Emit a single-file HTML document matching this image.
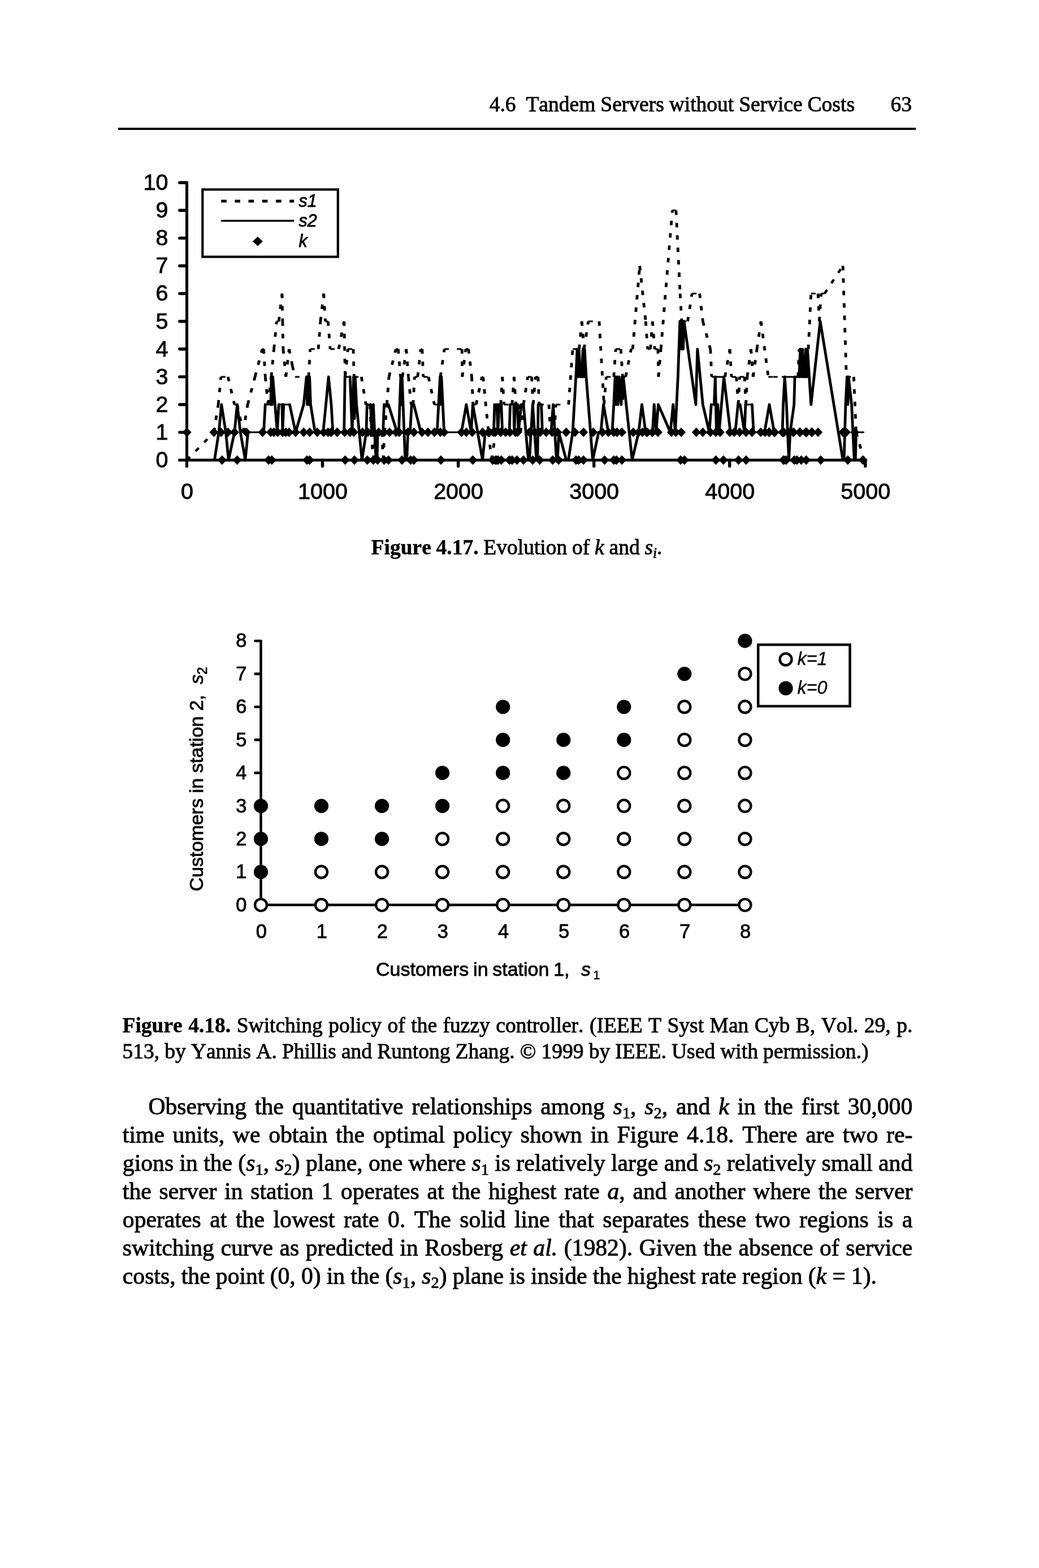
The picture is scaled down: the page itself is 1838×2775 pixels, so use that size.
<!DOCTYPE html>
<html lang="en">
<head>
<meta charset="utf-8">
<title>4.6 Tandem Servers without Service Costs</title>
<style>
html,body{margin:0;padding:0;background:#fff;}
body{width:1838px;height:2775px;position:relative;overflow:hidden;font-family:'Liberation Serif', serif;color:#000;}
.t{position:absolute;white-space:nowrap;margin:0;padding:0;-webkit-text-stroke:0.85px #000;font-kerning:none;}
.t.c{width:0;}
.t.c>span{display:inline-block;transform:translateX(-50%);}
.t.r{width:0;}
.t.r>span{display:inline-block;transform:translateX(-100%);}
b{-webkit-text-stroke:0.4px #000;}
.sub{font-size:68%;position:relative;top:0.22em;line-height:0;}
.sub2{font-size:70%;position:relative;top:0.3em;line-height:0;}
.rule{position:absolute;left:209px;top:226px;width:1411px;height:4px;background:#000;}
svg{position:absolute;left:0;top:0;}
.yl{position:absolute;left:347.2px;top:1379.0px;width:0;height:0;}
.yl>span{position:absolute;white-space:nowrap;-webkit-text-stroke:0.85px #000;font-kerning:none;font-family:'Liberation Sans', sans-serif;font-size:34px;line-height:40px;transform:translate(-50%,-50%) rotate(-90deg);transform-origin:50% 50%;display:inline-block;}
</style>
</head>
<body>
<div class="rule"></div>
<svg width="1838" height="2775" viewBox="0 0 1838 2775">
<path d="M330.5 321.5V827.5M315.3 814.2H1533.5" stroke="#000" stroke-width="5" fill="none"/>
<path d="M317.8 765.1H330.5M317.8 716.0H330.5M317.8 666.9H330.5M317.8 617.8H330.5M317.8 568.7H330.5M317.8 519.6H330.5M317.8 470.5H330.5M317.8 421.4H330.5M317.8 372.3H330.5M317.8 323.2H330.5M570.5 814.2V825M810.6 814.2V825M1050.7 814.2V825M1290.7 814.2V825M1530.8 814.2V825" stroke="#000" stroke-width="5.4" stroke-linecap="round" fill="none"/>
<path d="M390.9 666.9L403.3 666.9M414.8 716.0L419.6 716.0M464.0 617.8L466.5 617.8M489.4 568.7L493.2 568.7M521.9 666.9L545.9 666.9M548.7 617.8L563.1 617.8M575.5 568.7L580.3 568.7M584.1 617.8L599.1 617.8M615.4 617.8L625.0 617.8M626.3 666.9L639.3 666.9M647.3 716.0L654.6 716.0M665.1 765.1L675.7 765.1M700.5 617.8L704.4 617.8M708.6 666.9L712.0 666.9M727.3 716.0L730.8 716.0M733.4 666.9L738.8 666.9M744.5 617.8L746.8 617.8M748.8 666.9L757.9 666.9M768.5 716.0L777.1 716.0M786.2 617.8L808.6 617.8M808.6 617.8L817.2 617.8M823.9 617.8L828.7 617.8M836.8 716.0L842.1 716.0M852.6 666.9L854.6 666.9M891.6 716.0L905.9 716.0M912.6 716.0L917.4 716.0M933.7 666.9L940.4 666.9M947.1 666.9L951.8 666.9M953.8 716.0L971.0 716.0M973.8 765.1L980.5 765.1M983.4 716.0L1005.8 716.0M1013.1 617.8L1024.5 617.8M1040.8 568.7L1059.9 568.7M1072.4 666.9L1085.8 666.9M1089.2 617.8L1098.2 617.8M1101.5 666.9L1106.8 666.9M1116.4 617.8L1119.2 617.8M1145.7 617.8L1150.5 617.8M1158.2 617.8L1163.9 617.8M1189.4 372.3L1195.9 372.3M1206.0 568.7L1216.5 568.7M1224.2 519.6L1237.6 519.6M1259.0 666.9L1264.4 666.9M1264.4 666.9L1270.1 666.9M1270.1 666.9L1276.8 666.9M1276.8 666.9L1282.5 666.9M1294.0 666.9L1302.6 666.9M1308.4 666.9L1317.0 666.9M1359.1 666.9L1367.7 666.9M1367.7 666.9L1383.0 666.9M1383.0 666.9L1389.7 666.9M1389.7 666.9L1395.4 666.9M1395.4 666.9L1401.2 666.9M1401.2 666.9L1406.9 666.9M1406.9 666.9L1411.7 666.9M1413.7 617.8L1429.9 617.8M1434.7 519.6L1447.1 519.6M1452.5 519.6L1458.6 519.6M1497.3 666.9L1510.3 666.9M1528.5 814.2L1533.0 814.2" fill="none" stroke="#000" stroke-width="3.00" stroke-dasharray="8 14"/>
<path d="M330.6 814.2L378.4 765.1M1458.6 519.6L1491.1 470.5" fill="none" stroke="#000" stroke-width="4.35" stroke-dasharray="8 14"/>
<path d="M378.4 765.1L386.1 716.0M386.1 716.0L390.9 666.9M403.3 666.9L414.8 716.0M419.6 716.0L430.1 765.1M430.1 765.1L438.1 716.0M438.1 716.0L451.1 666.9M451.1 666.9L464.0 617.8M466.5 617.8L469.3 666.9M469.3 666.9L474.1 716.0M474.1 716.0L479.8 666.9M479.8 666.9L484.6 617.8M484.6 617.8L489.4 568.7M493.2 568.7L499.0 519.6M499.0 519.6L499.9 568.7M499.9 568.7L500.9 617.8M500.9 617.8L505.7 666.9M505.7 666.9L511.4 617.8M511.4 617.8L517.2 647.3M517.2 647.3L521.9 666.9M545.9 666.9L548.7 617.8M563.1 617.8L566.9 568.7M566.9 568.7L572.6 519.6M572.6 519.6L575.5 568.7M580.3 568.7L584.1 617.8M599.1 617.8L608.7 568.7M608.7 568.7L610.6 666.9M610.6 666.9L615.4 617.8M625.0 617.8L626.3 666.9M639.3 666.9L647.3 716.0M654.6 716.0L656.5 765.1M656.5 765.1L660.4 814.2M660.4 814.2L665.1 765.1M675.7 765.1L677.6 814.2M677.6 814.2L680.4 765.1M680.4 765.1L684.3 716.0M684.3 716.0L688.1 666.9M688.1 666.9L700.5 617.8M704.4 617.8L708.6 666.9M712.0 666.9L718.7 617.8M718.7 617.8L722.5 666.9M722.5 666.9L727.3 716.0M730.8 716.0L733.4 666.9M738.8 666.9L744.5 617.8M746.8 617.8L748.8 666.9M757.9 666.9L768.5 716.0M777.1 716.0L779.0 666.9M779.0 666.9L786.2 617.8M817.2 617.8L817.8 666.9M817.8 666.9L823.9 617.8M828.7 617.8L834.5 666.9M834.5 666.9L836.8 716.0M842.1 716.0L852.6 666.9M854.6 666.9L864.1 765.1M864.1 765.1L869.6 814.2M869.6 814.2L876.8 765.1M876.8 765.1L885.8 716.0M885.8 716.0L888.7 666.9M888.7 666.9L891.6 716.0M905.9 716.0L909.4 666.9M909.4 666.9L912.6 716.0M917.4 716.0L920.8 765.1M920.8 765.1L926.0 716.0M926.0 716.0L933.7 666.9M940.4 666.9L943.2 716.0M943.2 716.0L947.1 666.9M951.8 666.9L953.8 716.0M971.0 716.0L973.8 765.1M980.5 765.1L983.4 716.0M1005.8 716.0L1013.1 617.8M1024.5 617.8L1029.3 568.7M1029.3 568.7L1033.2 617.8M1033.2 617.8L1040.8 568.7M1059.9 568.7L1068.5 716.0M1068.5 716.0L1072.4 666.9M1085.8 666.9L1089.2 617.8M1098.2 617.8L1101.5 666.9M1106.8 666.9L1116.4 617.8M1119.2 617.8L1131.7 470.5M1131.7 470.5L1142.2 568.7M1142.2 568.7L1145.7 617.8M1150.5 617.8L1154.3 568.7M1154.3 568.7L1158.2 617.8M1163.9 617.8L1164.9 666.9M1164.9 666.9L1169.1 617.8M1169.1 617.8L1189.4 372.3M1195.9 372.3L1203.1 519.6M1203.1 519.6L1206.0 568.7M1216.5 568.7L1224.2 519.6M1237.6 519.6L1243.3 568.7M1243.3 568.7L1256.7 617.8M1256.7 617.8L1259.0 666.9M1282.5 666.9L1291.1 617.8M1291.1 617.8L1294.0 666.9M1302.6 666.9L1306.1 716.0M1306.1 716.0L1308.4 666.9M1317.0 666.9L1319.5 716.0M1319.5 716.0L1321.8 666.9M1321.8 666.9L1328.5 617.8M1328.5 617.8L1332.3 666.9M1332.3 666.9L1339.0 617.8M1339.0 617.8L1346.2 568.7M1346.2 568.7L1359.1 666.9M1411.7 666.9L1413.7 617.8M1429.9 617.8L1434.7 519.6M1447.1 519.6L1449.4 568.7M1449.4 568.7L1452.5 519.6M1491.1 470.5L1497.3 666.9M1510.3 666.9L1514.5 765.1M1514.5 765.1L1528.5 814.2" fill="none" stroke="#000" stroke-width="4.80" stroke-dasharray="8 14"/>
<path d="M330.6 814.2L379.4 814.2M438.7 765.1L466.5 765.1M469.3 716.0L478.9 716.0M493.2 716.0L499.0 716.0M501.8 716.0L512.4 716.0M557.3 765.1L571.7 765.1M588.9 765.1L608.7 765.1M610.2 666.9L619.2 666.9M649.3 716.0L655.6 716.0M665.1 814.2L667.1 814.2M668.0 765.1L677.6 765.1M679.5 716.0L687.1 716.0M702.4 765.1L705.3 765.1M716.8 814.2L719.7 814.2M721.6 765.1L725.4 765.1M728.3 716.0L732.1 716.0M744.5 765.1L773.2 765.1M785.7 765.1L816.3 765.1M858.4 765.1L872.7 765.1M872.7 765.1L873.4 765.1M874.9 716.0L879.1 716.0M883.0 716.0L886.8 716.0M888.7 765.1L901.1 765.1M902.5 716.0L908.8 716.0M911.7 716.0L915.5 716.0M922.2 716.0L926.0 716.0M934.6 814.2L936.5 814.2M949.0 814.2L950.9 814.2M952.2 716.0L957.6 716.0M959.5 765.1L974.8 765.1M984.4 814.2L986.3 814.2M1001.6 814.2L1005.4 814.2M1026.8 666.9L1029.3 666.9M1059.0 765.1L1062.8 765.1M1076.2 765.1L1082.9 765.1M1142.2 765.1L1152.7 765.1M1152.7 765.1L1154.3 765.1M1258.2 716.0L1263.4 716.0M1292.1 765.1L1300.7 765.1M1305.5 716.0L1309.3 716.0M1318.9 716.0L1330.4 716.0M1333.2 765.1L1352.4 765.1M1369.6 765.1L1384.9 765.1M1384.9 765.1L1384.0 765.1M1406.0 666.9L1413.7 666.9M1421.5 666.9L1423.8 666.9M1491.1 814.2L1493.1 814.2M1511.2 814.2L1513.2 814.2M1514.5 765.1L1527.5 765.1" fill="none" stroke="#000" stroke-width="3.00" stroke-linecap="round"/>
<path d="M379.4 814.2L387.1 765.1M387.1 765.1L391.8 716.0M391.8 716.0L399.5 765.1M399.5 765.1L404.3 814.2M404.3 814.2L414.8 765.1M414.8 765.1L419.6 716.0M419.6 716.0L425.3 765.1M425.3 765.1L433.9 814.2M433.9 814.2L438.7 765.1M466.5 765.1L469.3 716.0M478.9 716.0L480.2 666.9M480.2 666.9L481.4 716.0M481.4 716.0L482.5 666.9M482.5 666.9L486.5 716.0M486.5 716.0L490.4 765.1M490.4 765.1L493.2 716.0M499.0 716.0L499.9 765.1M499.9 765.1L501.8 716.0M512.4 716.0L522.9 765.1M522.9 765.1L537.2 716.0M537.2 716.0L542.2 666.9M542.2 666.9L543.6 716.0M543.6 716.0L544.9 666.9M544.9 666.9L546.4 716.0M546.4 716.0L547.6 666.9M547.6 666.9L549.5 716.0M549.5 716.0L557.3 765.1M571.7 765.1L576.5 716.0M576.5 716.0L581.2 666.9M581.2 666.9L586.0 716.0M586.0 716.0L588.9 765.1M608.7 765.1L610.2 666.9M619.2 666.9L623.0 765.1M623.0 765.1L625.5 666.9M625.5 666.9L627.1 740.6M627.1 740.6L628.2 666.9M628.2 666.9L630.7 716.0M630.7 716.0L640.3 814.2M640.3 814.2L647.9 765.1M647.9 765.1L649.3 716.0M655.6 716.0L657.5 765.1M657.5 765.1L660.4 716.0M660.4 716.0L665.1 814.2M667.1 814.2L668.0 765.1M677.6 765.1L679.5 716.0M687.1 716.0L702.4 765.1M705.3 765.1L709.0 666.9M709.0 666.9L710.1 716.0M710.1 716.0L711.2 666.9M711.2 666.9L716.8 814.2M719.7 814.2L721.6 765.1M725.4 765.1L728.3 716.0M732.1 716.0L744.5 765.1M773.2 765.1L778.6 666.9M778.6 666.9L779.7 716.0M779.7 716.0L780.9 666.9M780.9 666.9L785.7 765.1M816.3 765.1L824.9 716.0M824.9 716.0L833.5 765.1M833.5 765.1L836.4 716.0M836.4 716.0L853.6 814.2M853.6 814.2L858.4 765.1M873.4 765.1L874.9 716.0M879.1 716.0L880.7 765.1M880.7 765.1L883.0 716.0M886.8 716.0L888.7 765.1M901.1 765.1L902.5 716.0M908.8 716.0L909.7 765.1M909.7 765.1L911.7 716.0M915.5 716.0L917.0 765.1M917.0 765.1L922.2 716.0M926.0 716.0L934.6 814.2M936.5 814.2L942.3 716.0M942.3 716.0L949.0 814.2M950.9 814.2L952.2 716.0M957.6 716.0L959.5 765.1M974.8 765.1L978.6 716.0M978.6 716.0L984.4 814.2M986.3 814.2L988.6 765.1M988.6 765.1L1001.6 814.2M1005.4 814.2L1013.1 765.1M1013.1 765.1L1018.8 666.9M1018.8 666.9L1021.1 617.8M1021.1 617.8L1022.6 666.9M1022.6 666.9L1024.2 617.8M1024.2 617.8L1026.8 666.9M1029.3 666.9L1031.2 617.8M1031.2 617.8L1032.6 666.9M1032.6 666.9L1034.1 617.8M1034.1 617.8L1037.0 666.9M1037.0 666.9L1048.5 814.2M1048.5 814.2L1059.0 765.1M1062.8 765.1L1067.6 716.0M1067.6 716.0L1076.2 765.1M1082.9 765.1L1085.8 716.0M1085.8 716.0L1088.1 666.9M1088.1 666.9L1089.6 716.0M1089.6 716.0L1091.1 666.9M1091.1 666.9L1093.0 716.0M1093.0 716.0L1094.9 666.9M1094.9 666.9L1098.8 716.0M1098.8 716.0L1100.3 666.9M1100.3 666.9L1101.5 706.2M1101.5 706.2L1102.6 666.9M1102.6 666.9L1118.3 814.2M1118.3 814.2L1129.8 765.1M1129.8 765.1L1135.5 716.0M1135.5 716.0L1142.2 765.1M1154.3 765.1L1157.2 716.0M1157.2 716.0L1160.7 765.1M1160.7 765.1L1164.5 716.0M1164.5 716.0L1185.9 765.1M1185.9 765.1L1190.7 716.0M1190.7 716.0L1194.5 765.1M1194.5 765.1L1199.3 666.9M1199.3 666.9L1202.8 568.7M1202.8 568.7L1203.9 617.8M1203.9 617.8L1205.1 568.7M1205.1 568.7L1206.2 617.8M1206.2 617.8L1207.3 568.7M1207.3 568.7L1208.5 617.8M1208.5 617.8L1210.0 568.7M1210.0 568.7L1230.9 716.0M1230.9 716.0L1233.8 617.8M1233.8 617.8L1243.3 716.0M1243.3 716.0L1254.8 765.1M1254.8 765.1L1258.2 716.0M1263.4 716.0L1265.3 666.9M1265.3 666.9L1267.4 765.1M1267.4 765.1L1269.7 716.0M1269.7 716.0L1272.0 765.1M1272.0 765.1L1280.6 666.9M1280.6 666.9L1292.1 765.1M1300.7 765.1L1305.5 716.0M1309.3 716.0L1317.0 765.1M1317.0 765.1L1318.9 716.0M1330.4 716.0L1333.2 765.1M1352.4 765.1L1361.0 716.0M1361.0 716.0L1369.6 765.1M1384.0 765.1L1385.5 716.0M1385.5 716.0L1388.2 666.9M1388.2 666.9L1391.3 716.0M1391.3 716.0L1395.5 814.2M1395.5 814.2L1397.8 765.1M1397.8 765.1L1404.7 716.0M1404.7 716.0L1406.0 666.9M1413.7 666.9L1415.8 617.8M1415.8 617.8L1417.7 666.9M1417.7 666.9L1419.6 617.8M1419.6 617.8L1421.5 666.9M1423.8 666.9L1425.3 617.8M1425.3 617.8L1426.9 666.9M1426.9 666.9L1428.4 617.8M1428.4 617.8L1434.7 716.0M1434.7 716.0L1451.0 568.7M1451.0 568.7L1491.1 814.2M1493.1 814.2L1495.9 716.0M1495.9 716.0L1498.4 666.9M1498.4 666.9L1499.9 716.0M1499.9 716.0L1501.1 666.9M1501.1 666.9L1506.5 716.0M1506.5 716.0L1511.2 814.2M1513.2 814.2L1514.5 765.1" fill="none" stroke="#000" stroke-width="4.80" stroke-linecap="round"/>
<path d="M322.6 765.1l8.0 -8.5l8.0 8.5l-8.0 8.5zM370.4 765.1l8.0 -8.5l8.0 8.5l-8.0 8.5zM382.9 765.1l8.0 -8.5l8.0 8.5l-8.0 8.5zM395.3 765.1l8.0 -8.5l8.0 8.5l-8.0 8.5zM406.8 765.1l8.0 -8.5l8.0 8.5l-8.0 8.5zM427.8 765.1l8.0 -8.5l8.0 8.5l-8.0 8.5zM456.5 765.1l8.0 -8.5l8.0 8.5l-8.0 8.5zM470.9 765.1l8.0 -8.5l8.0 8.5l-8.0 8.5zM476.6 765.1l8.0 -8.5l8.0 8.5l-8.0 8.5zM483.3 765.1l8.0 -8.5l8.0 8.5l-8.0 8.5zM491.9 765.1l8.0 -8.5l8.0 8.5l-8.0 8.5zM497.7 765.1l8.0 -8.5l8.0 8.5l-8.0 8.5zM503.4 765.1l8.0 -8.5l8.0 8.5l-8.0 8.5zM514.9 765.1l8.0 -8.5l8.0 8.5l-8.0 8.5zM529.2 765.1l8.0 -8.5l8.0 8.5l-8.0 8.5zM539.8 765.1l8.0 -8.5l8.0 8.5l-8.0 8.5zM553.2 765.1l8.0 -8.5l8.0 8.5l-8.0 8.5zM564.6 765.1l8.0 -8.5l8.0 8.5l-8.0 8.5zM572.3 765.1l8.0 -8.5l8.0 8.5l-8.0 8.5zM578.0 765.1l8.0 -8.5l8.0 8.5l-8.0 8.5zM588.6 765.1l8.0 -8.5l8.0 8.5l-8.0 8.5zM577.7 765.1l8.0 -8.5l8.0 8.5l-8.0 8.5zM588.3 765.1l8.0 -8.5l8.0 8.5l-8.0 8.5zM601.7 765.1l8.0 -8.5l8.0 8.5l-8.0 8.5zM611.2 765.1l8.0 -8.5l8.0 8.5l-8.0 8.5zM617.9 765.1l8.0 -8.5l8.0 8.5l-8.0 8.5zM633.2 765.1l8.0 -8.5l8.0 8.5l-8.0 8.5zM642.8 765.1l8.0 -8.5l8.0 8.5l-8.0 8.5zM652.4 765.1l8.0 -8.5l8.0 8.5l-8.0 8.5zM661.9 765.1l8.0 -8.5l8.0 8.5l-8.0 8.5zM671.5 765.1l8.0 -8.5l8.0 8.5l-8.0 8.5zM681.1 765.1l8.0 -8.5l8.0 8.5l-8.0 8.5zM692.5 765.1l8.0 -8.5l8.0 8.5l-8.0 8.5zM698.3 765.1l8.0 -8.5l8.0 8.5l-8.0 8.5zM713.6 765.1l8.0 -8.5l8.0 8.5l-8.0 8.5zM724.1 765.1l8.0 -8.5l8.0 8.5l-8.0 8.5zM738.5 765.1l8.0 -8.5l8.0 8.5l-8.0 8.5zM749.0 765.1l8.0 -8.5l8.0 8.5l-8.0 8.5zM760.5 765.1l8.0 -8.5l8.0 8.5l-8.0 8.5zM771.0 765.1l8.0 -8.5l8.0 8.5l-8.0 8.5zM777.7 765.1l8.0 -8.5l8.0 8.5l-8.0 8.5zM808.3 765.1l8.0 -8.5l8.0 8.5l-8.0 8.5zM816.9 765.1l8.0 -8.5l8.0 8.5l-8.0 8.5zM827.4 765.1l8.0 -8.5l8.0 8.5l-8.0 8.5zM845.6 765.1l8.0 -8.5l8.0 8.5l-8.0 8.5zM856.1 765.1l8.0 -8.5l8.0 8.5l-8.0 8.5zM864.7 765.1l8.0 -8.5l8.0 8.5l-8.0 8.5zM857.7 765.1l8.0 -8.5l8.0 8.5l-8.0 8.5zM868.3 765.1l8.0 -8.5l8.0 8.5l-8.0 8.5zM877.8 765.1l8.0 -8.5l8.0 8.5l-8.0 8.5zM886.4 765.1l8.0 -8.5l8.0 8.5l-8.0 8.5zM894.1 765.1l8.0 -8.5l8.0 8.5l-8.0 8.5zM903.7 765.1l8.0 -8.5l8.0 8.5l-8.0 8.5zM907.5 765.1l8.0 -8.5l8.0 8.5l-8.0 8.5zM928.5 765.1l8.0 -8.5l8.0 8.5l-8.0 8.5zM938.1 765.1l8.0 -8.5l8.0 8.5l-8.0 8.5zM947.7 765.1l8.0 -8.5l8.0 8.5l-8.0 8.5zM958.2 765.1l8.0 -8.5l8.0 8.5l-8.0 8.5zM968.7 765.1l8.0 -8.5l8.0 8.5l-8.0 8.5zM978.3 765.1l8.0 -8.5l8.0 8.5l-8.0 8.5zM993.6 765.1l8.0 -8.5l8.0 8.5l-8.0 8.5zM1008.9 765.1l8.0 -8.5l8.0 8.5l-8.0 8.5zM1024.2 765.1l8.0 -8.5l8.0 8.5l-8.0 8.5zM1041.4 765.1l8.0 -8.5l8.0 8.5l-8.0 8.5zM1057.7 765.1l8.0 -8.5l8.0 8.5l-8.0 8.5zM1068.2 765.1l8.0 -8.5l8.0 8.5l-8.0 8.5zM1077.8 765.1l8.0 -8.5l8.0 8.5l-8.0 8.5zM1083.5 765.1l8.0 -8.5l8.0 8.5l-8.0 8.5zM1092.1 765.1l8.0 -8.5l8.0 8.5l-8.0 8.5zM1112.2 765.1l8.0 -8.5l8.0 8.5l-8.0 8.5zM1121.8 765.1l8.0 -8.5l8.0 8.5l-8.0 8.5zM1128.5 765.1l8.0 -8.5l8.0 8.5l-8.0 8.5zM1137.1 765.1l8.0 -8.5l8.0 8.5l-8.0 8.5zM1145.7 765.1l8.0 -8.5l8.0 8.5l-8.0 8.5zM1135.8 765.1l8.0 -8.5l8.0 8.5l-8.0 8.5zM1146.3 765.1l8.0 -8.5l8.0 8.5l-8.0 8.5zM1155.9 765.1l8.0 -8.5l8.0 8.5l-8.0 8.5zM1179.8 765.1l8.0 -8.5l8.0 8.5l-8.0 8.5zM1187.5 765.1l8.0 -8.5l8.0 8.5l-8.0 8.5zM1197.1 765.1l8.0 -8.5l8.0 8.5l-8.0 8.5zM1223.8 765.1l8.0 -8.5l8.0 8.5l-8.0 8.5zM1235.3 765.1l8.0 -8.5l8.0 8.5l-8.0 8.5zM1248.7 765.1l8.0 -8.5l8.0 8.5l-8.0 8.5zM1258.3 765.1l8.0 -8.5l8.0 8.5l-8.0 8.5zM1265.9 765.1l8.0 -8.5l8.0 8.5l-8.0 8.5zM1283.1 765.1l8.0 -8.5l8.0 8.5l-8.0 8.5zM1290.8 765.1l8.0 -8.5l8.0 8.5l-8.0 8.5zM1300.4 765.1l8.0 -8.5l8.0 8.5l-8.0 8.5zM1311.8 765.1l8.0 -8.5l8.0 8.5l-8.0 8.5zM1322.4 765.1l8.0 -8.5l8.0 8.5l-8.0 8.5zM1337.7 765.1l8.0 -8.5l8.0 8.5l-8.0 8.5zM1345.3 765.1l8.0 -8.5l8.0 8.5l-8.0 8.5zM1352.0 765.1l8.0 -8.5l8.0 8.5l-8.0 8.5zM1361.6 765.1l8.0 -8.5l8.0 8.5l-8.0 8.5zM1378.8 765.1l8.0 -8.5l8.0 8.5l-8.0 8.5zM1386.5 765.1l8.0 -8.5l8.0 8.5l-8.0 8.5zM1396.0 765.1l8.0 -8.5l8.0 8.5l-8.0 8.5zM1407.5 765.1l8.0 -8.5l8.0 8.5l-8.0 8.5zM1419.0 765.1l8.0 -8.5l8.0 8.5l-8.0 8.5zM1428.6 765.1l8.0 -8.5l8.0 8.5l-8.0 8.5zM1337.7 765.1l8.0 -8.5l8.0 8.5l-8.0 8.5zM1345.4 765.1l8.0 -8.5l8.0 8.5l-8.0 8.5zM1353.0 765.1l8.0 -8.5l8.0 8.5l-8.0 8.5zM1362.6 765.1l8.0 -8.5l8.0 8.5l-8.0 8.5zM1376.0 765.1l8.0 -8.5l8.0 8.5l-8.0 8.5zM1385.6 765.1l8.0 -8.5l8.0 8.5l-8.0 8.5zM1395.1 765.1l8.0 -8.5l8.0 8.5l-8.0 8.5zM1406.6 765.1l8.0 -8.5l8.0 8.5l-8.0 8.5zM1417.1 765.1l8.0 -8.5l8.0 8.5l-8.0 8.5zM1427.7 765.1l8.0 -8.5l8.0 8.5l-8.0 8.5zM1439.1 765.1l8.0 -8.5l8.0 8.5l-8.0 8.5zM1483.1 765.1l8.0 -8.5l8.0 8.5l-8.0 8.5zM1488.9 765.1l8.0 -8.5l8.0 8.5l-8.0 8.5zM1504.2 765.1l8.0 -8.5l8.0 8.5l-8.0 8.5zM384.8 814.2l8.0 -8.5l8.0 8.5l-8.0 8.5zM411.6 814.2l8.0 -8.5l8.0 8.5l-8.0 8.5zM467.1 814.2l8.0 -8.5l8.0 8.5l-8.0 8.5zM472.8 814.2l8.0 -8.5l8.0 8.5l-8.0 8.5zM535.0 814.2l8.0 -8.5l8.0 8.5l-8.0 8.5zM539.8 814.2l8.0 -8.5l8.0 8.5l-8.0 8.5zM602.6 814.2l8.0 -8.5l8.0 8.5l-8.0 8.5zM618.9 814.2l8.0 -8.5l8.0 8.5l-8.0 8.5zM641.8 814.2l8.0 -8.5l8.0 8.5l-8.0 8.5zM652.4 814.2l8.0 -8.5l8.0 8.5l-8.0 8.5zM660.0 814.2l8.0 -8.5l8.0 8.5l-8.0 8.5zM671.5 814.2l8.0 -8.5l8.0 8.5l-8.0 8.5zM679.1 814.2l8.0 -8.5l8.0 8.5l-8.0 8.5zM703.1 814.2l8.0 -8.5l8.0 8.5l-8.0 8.5zM718.4 814.2l8.0 -8.5l8.0 8.5l-8.0 8.5zM724.1 814.2l8.0 -8.5l8.0 8.5l-8.0 8.5zM771.9 814.2l8.0 -8.5l8.0 8.5l-8.0 8.5zM828.4 814.2l8.0 -8.5l8.0 8.5l-8.0 8.5zM863.8 814.2l8.0 -8.5l8.0 8.5l-8.0 8.5zM870.5 814.2l8.0 -8.5l8.0 8.5l-8.0 8.5zM863.5 814.2l8.0 -8.5l8.0 8.5l-8.0 8.5zM868.3 814.2l8.0 -8.5l8.0 8.5l-8.0 8.5zM873.0 814.2l8.0 -8.5l8.0 8.5l-8.0 8.5zM878.8 814.2l8.0 -8.5l8.0 8.5l-8.0 8.5zM893.1 814.2l8.0 -8.5l8.0 8.5l-8.0 8.5zM897.9 814.2l8.0 -8.5l8.0 8.5l-8.0 8.5zM906.5 814.2l8.0 -8.5l8.0 8.5l-8.0 8.5zM918.0 814.2l8.0 -8.5l8.0 8.5l-8.0 8.5zM934.3 814.2l8.0 -8.5l8.0 8.5l-8.0 8.5zM946.7 814.2l8.0 -8.5l8.0 8.5l-8.0 8.5zM969.7 814.2l8.0 -8.5l8.0 8.5l-8.0 8.5zM980.2 814.2l8.0 -8.5l8.0 8.5l-8.0 8.5zM1010.8 814.2l8.0 -8.5l8.0 8.5l-8.0 8.5zM1015.6 814.2l8.0 -8.5l8.0 8.5l-8.0 8.5zM1024.2 814.2l8.0 -8.5l8.0 8.5l-8.0 8.5zM1061.5 814.2l8.0 -8.5l8.0 8.5l-8.0 8.5zM1077.8 814.2l8.0 -8.5l8.0 8.5l-8.0 8.5zM1082.5 814.2l8.0 -8.5l8.0 8.5l-8.0 8.5zM1092.1 814.2l8.0 -8.5l8.0 8.5l-8.0 8.5zM1196.1 814.2l8.0 -8.5l8.0 8.5l-8.0 8.5zM1202.8 814.2l8.0 -8.5l8.0 8.5l-8.0 8.5zM1258.3 814.2l8.0 -8.5l8.0 8.5l-8.0 8.5zM1271.7 814.2l8.0 -8.5l8.0 8.5l-8.0 8.5zM1298.5 814.2l8.0 -8.5l8.0 8.5l-8.0 8.5zM1311.8 814.2l8.0 -8.5l8.0 8.5l-8.0 8.5zM1378.8 814.2l8.0 -8.5l8.0 8.5l-8.0 8.5zM1377.9 814.2l8.0 -8.5l8.0 8.5l-8.0 8.5zM1382.7 814.2l8.0 -8.5l8.0 8.5l-8.0 8.5zM1397.1 814.2l8.0 -8.5l8.0 8.5l-8.0 8.5zM1401.8 814.2l8.0 -8.5l8.0 8.5l-8.0 8.5zM1409.5 814.2l8.0 -8.5l8.0 8.5l-8.0 8.5zM1418.1 814.2l8.0 -8.5l8.0 8.5l-8.0 8.5zM1443.9 814.2l8.0 -8.5l8.0 8.5l-8.0 8.5zM1491.8 814.2l8.0 -8.5l8.0 8.5l-8.0 8.5zM1518.5 814.2l8.0 -8.5l8.0 8.5l-8.0 8.5z" fill="#000"/>
<rect x="358.3" y="335.4" width="239.5" height="119.1" fill="#fff" stroke="#000" stroke-width="4.2"/>
<path d="M391.2 355.9H520.2" stroke="#000" stroke-width="5" stroke-dasharray="9.6 14.6" fill="none"/>
<path d="M391.2 390.8H520.2" stroke="#000" stroke-width="3.6" fill="none"/>
<path d="M446.9 427.2l9 -8.4l9 8.4l-9 8.4z" fill="#000"/>
<path d="M461.5 1134V1601.6H1317.9" stroke="#000" stroke-width="4.5" fill="none"/>
<path d="M451.5 1543.2H461.5M451.5 1484.7H461.5M451.5 1426.3H461.5M451.5 1367.9H461.5M451.5 1309.4H461.5M451.5 1251.0H461.5M451.5 1192.6H461.5M451.5 1134.2H461.5" stroke="#000" stroke-width="4.6" stroke-linecap="round" fill="none"/>
<circle cx="461.5" cy="1601.6" r="10.5" fill="#fff" stroke="#000" stroke-width="4.4"/>
<circle cx="461.5" cy="1543.2" r="12.6" fill="#000"/>
<circle cx="461.5" cy="1484.7" r="12.6" fill="#000"/>
<circle cx="461.5" cy="1426.3" r="12.6" fill="#000"/>
<circle cx="568.5" cy="1601.6" r="10.5" fill="#fff" stroke="#000" stroke-width="4.4"/>
<circle cx="568.5" cy="1543.2" r="10.5" fill="#fff" stroke="#000" stroke-width="4.4"/>
<circle cx="568.5" cy="1484.7" r="12.6" fill="#000"/>
<circle cx="568.5" cy="1426.3" r="12.6" fill="#000"/>
<circle cx="675.6" cy="1601.6" r="10.5" fill="#fff" stroke="#000" stroke-width="4.4"/>
<circle cx="675.6" cy="1543.2" r="10.5" fill="#fff" stroke="#000" stroke-width="4.4"/>
<circle cx="675.6" cy="1484.7" r="12.6" fill="#000"/>
<circle cx="675.6" cy="1426.3" r="12.6" fill="#000"/>
<circle cx="782.6" cy="1601.6" r="10.5" fill="#fff" stroke="#000" stroke-width="4.4"/>
<circle cx="782.6" cy="1543.2" r="10.5" fill="#fff" stroke="#000" stroke-width="4.4"/>
<circle cx="782.6" cy="1484.7" r="10.5" fill="#fff" stroke="#000" stroke-width="4.4"/>
<circle cx="782.6" cy="1426.3" r="12.6" fill="#000"/>
<circle cx="782.6" cy="1367.9" r="12.6" fill="#000"/>
<circle cx="889.7" cy="1601.6" r="10.5" fill="#fff" stroke="#000" stroke-width="4.4"/>
<circle cx="889.7" cy="1543.2" r="10.5" fill="#fff" stroke="#000" stroke-width="4.4"/>
<circle cx="889.7" cy="1484.7" r="10.5" fill="#fff" stroke="#000" stroke-width="4.4"/>
<circle cx="889.7" cy="1426.3" r="10.5" fill="#fff" stroke="#000" stroke-width="4.4"/>
<circle cx="889.7" cy="1367.9" r="12.6" fill="#000"/>
<circle cx="889.7" cy="1309.4" r="12.6" fill="#000"/>
<circle cx="889.7" cy="1251.0" r="12.6" fill="#000"/>
<circle cx="996.8" cy="1601.6" r="10.5" fill="#fff" stroke="#000" stroke-width="4.4"/>
<circle cx="996.8" cy="1543.2" r="10.5" fill="#fff" stroke="#000" stroke-width="4.4"/>
<circle cx="996.8" cy="1484.7" r="10.5" fill="#fff" stroke="#000" stroke-width="4.4"/>
<circle cx="996.8" cy="1426.3" r="10.5" fill="#fff" stroke="#000" stroke-width="4.4"/>
<circle cx="996.8" cy="1367.9" r="12.6" fill="#000"/>
<circle cx="996.8" cy="1309.4" r="12.6" fill="#000"/>
<circle cx="1103.8" cy="1601.6" r="10.5" fill="#fff" stroke="#000" stroke-width="4.4"/>
<circle cx="1103.8" cy="1543.2" r="10.5" fill="#fff" stroke="#000" stroke-width="4.4"/>
<circle cx="1103.8" cy="1484.7" r="10.5" fill="#fff" stroke="#000" stroke-width="4.4"/>
<circle cx="1103.8" cy="1426.3" r="10.5" fill="#fff" stroke="#000" stroke-width="4.4"/>
<circle cx="1103.8" cy="1367.9" r="10.5" fill="#fff" stroke="#000" stroke-width="4.4"/>
<circle cx="1103.8" cy="1309.4" r="12.6" fill="#000"/>
<circle cx="1103.8" cy="1251.0" r="12.6" fill="#000"/>
<circle cx="1210.8" cy="1601.6" r="10.5" fill="#fff" stroke="#000" stroke-width="4.4"/>
<circle cx="1210.8" cy="1543.2" r="10.5" fill="#fff" stroke="#000" stroke-width="4.4"/>
<circle cx="1210.8" cy="1484.7" r="10.5" fill="#fff" stroke="#000" stroke-width="4.4"/>
<circle cx="1210.8" cy="1426.3" r="10.5" fill="#fff" stroke="#000" stroke-width="4.4"/>
<circle cx="1210.8" cy="1367.9" r="10.5" fill="#fff" stroke="#000" stroke-width="4.4"/>
<circle cx="1210.8" cy="1309.4" r="10.5" fill="#fff" stroke="#000" stroke-width="4.4"/>
<circle cx="1210.8" cy="1251.0" r="10.5" fill="#fff" stroke="#000" stroke-width="4.4"/>
<circle cx="1210.8" cy="1192.6" r="12.6" fill="#000"/>
<circle cx="1317.9" cy="1601.6" r="10.5" fill="#fff" stroke="#000" stroke-width="4.4"/>
<circle cx="1317.9" cy="1543.2" r="10.5" fill="#fff" stroke="#000" stroke-width="4.4"/>
<circle cx="1317.9" cy="1484.7" r="10.5" fill="#fff" stroke="#000" stroke-width="4.4"/>
<circle cx="1317.9" cy="1426.3" r="10.5" fill="#fff" stroke="#000" stroke-width="4.4"/>
<circle cx="1317.9" cy="1367.9" r="10.5" fill="#fff" stroke="#000" stroke-width="4.4"/>
<circle cx="1317.9" cy="1309.4" r="10.5" fill="#fff" stroke="#000" stroke-width="4.4"/>
<circle cx="1317.9" cy="1251.0" r="10.5" fill="#fff" stroke="#000" stroke-width="4.4"/>
<circle cx="1317.9" cy="1192.6" r="10.5" fill="#fff" stroke="#000" stroke-width="4.4"/>
<circle cx="1317.9" cy="1134.2" r="12.6" fill="#000"/>
<rect x="1341.2" y="1141" width="162.3" height="108.8" fill="#fff" stroke="#000" stroke-width="4.5"/>
<circle cx="1390" cy="1167" r="10.5" fill="#fff" stroke="#000" stroke-width="4.4"/>
<circle cx="1390" cy="1218" r="12.6" fill="#000"/>
</svg>
<div class="yl"><span>Customers in station 2,&nbsp;&nbsp;<i>s</i><span class="sub2">2</span></span></div>
<div class="t" id="t0" style="top:161.07px;font-size:37.5px;line-height:48.75px;left:865.70px;word-spacing:-0.427px;"><span>4.6&nbsp; Tandem Servers without Service Costs</span></div>
<div class="t" id="t1" style="top:161.07px;font-size:37.5px;line-height:48.75px;left:1575.60px;"><span>63</span></div>
<div class="t" id="t2" style="top:945.47px;font-size:37.5px;line-height:48.75px;left:656.60px;word-spacing:-0.603px;"><span><b>Figure 4.17.</b> Evolution of <i>k</i> and <i>s</i><span class="sub"><i>i</i></span>.</span></div>
<div class="t" id="t3" style="top:1791.47px;font-size:37.5px;line-height:48.75px;left:216.50px;word-spacing:1.112px;"><span><b>Figure 4.18.</b> Switching policy of the fuzzy controller. (IEEE T Syst Man Cyb B, Vol. 29, p.</span></div>
<div class="t" id="t4" style="top:1836.77px;font-size:37.5px;line-height:48.75px;left:216.50px;word-spacing:-0.229px;"><span>513, by Yannis A. Phillis and Runtong Zhang. © 1999 by IEEE. Used with permission.)</span></div>
<div class="t" id="t5" style="top:1931.32px;font-size:41.7px;line-height:54.21px;left:262.40px;word-spacing:4.450px;"><span>Observing the quantitative relationships among <i>s</i><span class="sub">1</span>, <i>s</i><span class="sub">2</span>, and <i>k</i> in the first 30,000</span></div>
<div class="t" id="t6" style="top:1981.32px;font-size:41.7px;line-height:54.21px;left:216.80px;word-spacing:4.308px;"><span>time units, we obtain the optimal policy shown in Figure 4.18. There are two re-</span></div>
<div class="t" id="t7" style="top:2031.32px;font-size:41.7px;line-height:54.21px;left:216.80px;word-spacing:-0.133px;"><span>gions in the (<i>s</i><span class="sub">1</span>, <i>s</i><span class="sub">2</span>) plane, one where <i>s</i><span class="sub">1</span> is relatively large and <i>s</i><span class="sub">2</span> relatively small and</span></div>
<div class="t" id="t8" style="top:2081.32px;font-size:41.7px;line-height:54.21px;left:216.80px;word-spacing:3.341px;"><span>the server in station 1 operates at the highest rate <i>a</i>, and another where the server</span></div>
<div class="t" id="t9" style="top:2131.32px;font-size:41.7px;line-height:54.21px;left:216.80px;word-spacing:5.186px;"><span>operates at the lowest rate 0. The solid line that separates these two regions is a</span></div>
<div class="t" id="t10" style="top:2181.32px;font-size:41.7px;line-height:54.21px;left:216.80px;word-spacing:1.088px;"><span>switching curve as predicted in Rosberg <i>et al.</i> (1982). Given the absence of service</span></div>
<div class="t" id="t11" style="top:2231.32px;font-size:41.7px;line-height:54.21px;left:216.80px;word-spacing:-0.284px;"><span>costs, the point (0, 0) in the (<i>s</i><span class="sub">1</span>, <i>s</i><span class="sub">2</span>) plane is inside the highest rate region (<i>k</i> = 1).</span></div>
<div class="t r" id="t12" style="top:788.04px;font-size:39.5px;line-height:51.35px;font-family:'Liberation Sans', sans-serif;left:297.50px;"><span>0</span></div>
<div class="t r" id="t13" style="top:738.94px;font-size:39.5px;line-height:51.35px;font-family:'Liberation Sans', sans-serif;left:297.50px;"><span>1</span></div>
<div class="t r" id="t14" style="top:689.84px;font-size:39.5px;line-height:51.35px;font-family:'Liberation Sans', sans-serif;left:297.50px;"><span>2</span></div>
<div class="t r" id="t15" style="top:640.74px;font-size:39.5px;line-height:51.35px;font-family:'Liberation Sans', sans-serif;left:297.50px;"><span>3</span></div>
<div class="t r" id="t16" style="top:591.64px;font-size:39.5px;line-height:51.35px;font-family:'Liberation Sans', sans-serif;left:297.50px;"><span>4</span></div>
<div class="t r" id="t17" style="top:542.54px;font-size:39.5px;line-height:51.35px;font-family:'Liberation Sans', sans-serif;left:297.50px;"><span>5</span></div>
<div class="t r" id="t18" style="top:493.44px;font-size:39.5px;line-height:51.35px;font-family:'Liberation Sans', sans-serif;left:297.50px;"><span>6</span></div>
<div class="t r" id="t19" style="top:444.34px;font-size:39.5px;line-height:51.35px;font-family:'Liberation Sans', sans-serif;left:297.50px;"><span>7</span></div>
<div class="t r" id="t20" style="top:395.24px;font-size:39.5px;line-height:51.35px;font-family:'Liberation Sans', sans-serif;left:297.50px;"><span>8</span></div>
<div class="t r" id="t21" style="top:346.14px;font-size:39.5px;line-height:51.35px;font-family:'Liberation Sans', sans-serif;left:297.50px;"><span>9</span></div>
<div class="t r" id="t22" style="top:297.04px;font-size:39.5px;line-height:51.35px;font-family:'Liberation Sans', sans-serif;left:297.50px;"><span>10</span></div>
<div class="t c" id="t23" style="top:843.64px;font-size:39.5px;line-height:51.35px;font-family:'Liberation Sans', sans-serif;left:331.00px;"><span>0</span></div>
<div class="t c" id="t24" style="top:843.64px;font-size:39.5px;line-height:51.35px;font-family:'Liberation Sans', sans-serif;left:571.05px;"><span>1000</span></div>
<div class="t c" id="t25" style="top:843.64px;font-size:39.5px;line-height:51.35px;font-family:'Liberation Sans', sans-serif;left:811.10px;"><span>2000</span></div>
<div class="t c" id="t26" style="top:843.64px;font-size:39.5px;line-height:51.35px;font-family:'Liberation Sans', sans-serif;left:1051.15px;"><span>3000</span></div>
<div class="t c" id="t27" style="top:843.64px;font-size:39.5px;line-height:51.35px;font-family:'Liberation Sans', sans-serif;left:1291.20px;"><span>4000</span></div>
<div class="t c" id="t28" style="top:843.64px;font-size:39.5px;line-height:51.35px;font-family:'Liberation Sans', sans-serif;left:1531.25px;"><span>5000</span></div>
<div class="t" id="t29" style="top:336.11px;font-size:30.5px;line-height:39.65px;font-family:'Liberation Sans', sans-serif;left:528.50px;"><span><i>s1</i></span></div>
<div class="t" id="t30" style="top:371.31px;font-size:30.5px;line-height:39.65px;font-family:'Liberation Sans', sans-serif;left:528.50px;"><span><i>s2</i></span></div>
<div class="t" id="t31" style="top:406.51px;font-size:30.5px;line-height:39.65px;font-family:'Liberation Sans', sans-serif;left:528.50px;"><span><i>k</i></span></div>
<div class="t r" id="t32" style="top:1578.82px;font-size:34.5px;line-height:44.85px;font-family:'Liberation Sans', sans-serif;left:436.50px;"><span>0</span></div>
<div class="t r" id="t33" style="top:1520.39px;font-size:34.5px;line-height:44.85px;font-family:'Liberation Sans', sans-serif;left:436.50px;"><span>1</span></div>
<div class="t r" id="t34" style="top:1461.96px;font-size:34.5px;line-height:44.85px;font-family:'Liberation Sans', sans-serif;left:436.50px;"><span>2</span></div>
<div class="t r" id="t35" style="top:1403.53px;font-size:34.5px;line-height:44.85px;font-family:'Liberation Sans', sans-serif;left:436.50px;"><span>3</span></div>
<div class="t r" id="t36" style="top:1345.10px;font-size:34.5px;line-height:44.85px;font-family:'Liberation Sans', sans-serif;left:436.50px;"><span>4</span></div>
<div class="t r" id="t37" style="top:1286.67px;font-size:34.5px;line-height:44.85px;font-family:'Liberation Sans', sans-serif;left:436.50px;"><span>5</span></div>
<div class="t r" id="t38" style="top:1228.24px;font-size:34.5px;line-height:44.85px;font-family:'Liberation Sans', sans-serif;left:436.50px;"><span>6</span></div>
<div class="t r" id="t39" style="top:1169.81px;font-size:34.5px;line-height:44.85px;font-family:'Liberation Sans', sans-serif;left:436.50px;"><span>7</span></div>
<div class="t r" id="t40" style="top:1111.38px;font-size:34.5px;line-height:44.85px;font-family:'Liberation Sans', sans-serif;left:436.50px;"><span>8</span></div>
<div class="t c" id="t41" style="top:1625.92px;font-size:34.5px;line-height:44.85px;font-family:'Liberation Sans', sans-serif;left:462.30px;"><span>0</span></div>
<div class="t c" id="t42" style="top:1625.92px;font-size:34.5px;line-height:44.85px;font-family:'Liberation Sans', sans-serif;left:569.35px;"><span>1</span></div>
<div class="t c" id="t43" style="top:1625.92px;font-size:34.5px;line-height:44.85px;font-family:'Liberation Sans', sans-serif;left:676.40px;"><span>2</span></div>
<div class="t c" id="t44" style="top:1625.92px;font-size:34.5px;line-height:44.85px;font-family:'Liberation Sans', sans-serif;left:783.45px;"><span>3</span></div>
<div class="t c" id="t45" style="top:1625.92px;font-size:34.5px;line-height:44.85px;font-family:'Liberation Sans', sans-serif;left:890.50px;"><span>4</span></div>
<div class="t c" id="t46" style="top:1625.92px;font-size:34.5px;line-height:44.85px;font-family:'Liberation Sans', sans-serif;left:997.55px;"><span>5</span></div>
<div class="t c" id="t47" style="top:1625.92px;font-size:34.5px;line-height:44.85px;font-family:'Liberation Sans', sans-serif;left:1104.60px;"><span>6</span></div>
<div class="t c" id="t48" style="top:1625.92px;font-size:34.5px;line-height:44.85px;font-family:'Liberation Sans', sans-serif;left:1211.65px;"><span>7</span></div>
<div class="t c" id="t49" style="top:1625.92px;font-size:34.5px;line-height:44.85px;font-family:'Liberation Sans', sans-serif;left:1318.70px;"><span>8</span></div>
<div class="t" id="t50" style="top:1693.12px;font-size:34px;line-height:44.2px;font-family:'Liberation Sans', sans-serif;left:665.00px;word-spacing:-1.734px;"><span>Customers in station 1,</span></div>
<div class="t" id="t51" style="top:1693.12px;font-size:34px;line-height:44.2px;font-family:'Liberation Sans', sans-serif;left:1028.00px;"><span><i>s</i></span></div>
<div class="t" id="t52" style="top:1713.08px;font-size:21.5px;line-height:27.95px;font-family:'Liberation Sans', sans-serif;left:1049.50px;-webkit-text-stroke-width:0.5px;"><span>1</span></div>
<div class="t" id="t53" style="top:1145.81px;font-size:32.3px;line-height:41.99px;font-family:'Liberation Sans', sans-serif;left:1410.50px;-webkit-text-stroke-width:0.4px;"><span><i>k=1</i></span></div>
<div class="t" id="t54" style="top:1196.81px;font-size:32.3px;line-height:41.99px;font-family:'Liberation Sans', sans-serif;left:1410.50px;-webkit-text-stroke-width:0.4px;"><span><i>k=0</i></span></div>
</body>
</html>
